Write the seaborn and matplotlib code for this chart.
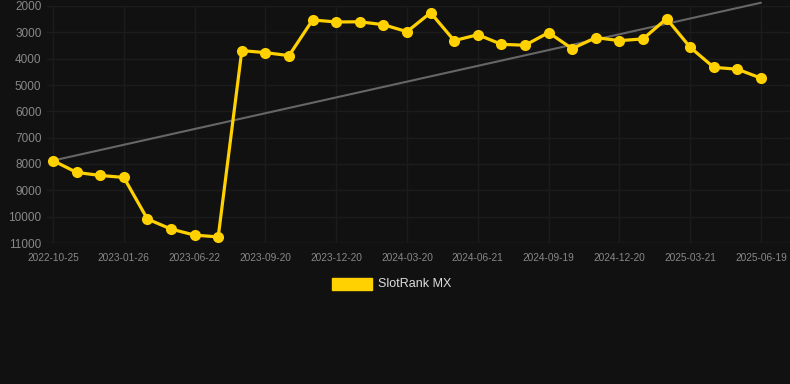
import numpy as np
import pandas as pd
import seaborn as sns
from matplotlib import pyplot as plt

# rank values, one point per snapshot (31 snapshots, every 3rd one labelled)
ranks = [7870, 8320, 8435, 8510, 10090, 10470, 10700, 10770,
         3695, 3770, 3885, 2530, 2607, 2600, 2710, 2975,
         2255, 3315, 3090, 3455, 3490, 3010, 3620, 3200,
         3315, 3250, 2480, 3570, 4330, 4400, 4740]
tick_labels = ['2022-10-25', '2023-01-26', '2023-06-22', '2023-09-20',
               '2023-12-20', '2024-03-20', '2024-06-21', '2024-09-19',
               '2024-12-20', '2025-03-21', '2025-06-19']
y_ticks = [2000, 3000, 4000, 5000, 6000, 7000, 8000, 9000, 10000, 11000]
series_name = 'SlotRank MX'
# trend line: value at first and last snapshot
trend_ends = [7870, 1875]

bg = '#111111'
gold = '#FFD100'

sns.set_theme(style='dark')
plt.rcParams['font.family'] = ['Liberation Sans', 'DejaVu Sans']

df = pd.DataFrame({'idx': np.arange(len(ranks)), 'rank': ranks})
trend = pd.DataFrame({'idx': [0, len(ranks) - 1], 'rank': trend_ends})

fig = plt.figure(figsize=(7.9, 3.84), dpi=100, facecolor=bg)
ax = fig.add_axes([47 / 790, 1 - 243 / 384, 743 / 790, 237 / 384])
ax.set_facecolor(bg)

sns.lineplot(data=trend, x='idx', y='rank', ax=ax, color='#666666', linewidth=1.5,
             zorder=2, clip_on=False)
sns.lineplot(data=df, x='idx', y='rank', ax=ax, color=gold, linewidth=2.3,
             marker='o', markersize=8, markeredgewidth=0, zorder=3, clip_on=False)

step = 23.6
ax.set_xlim(-6 / step, 30 + 29 / step)
ax.set_ylim(11000, 2000)
ax.set_xticks(np.arange(0, len(ranks), 3))
ax.set_xticklabels(tick_labels)
ax.set_yticks(y_ticks)
ax.set_xlabel('')
ax.set_ylabel('')

ax.grid(True, color='#1c1c1c', linewidth=1)
for s in ax.spines.values():
    s.set_visible(False)
ax.axhline(11000, color='#262626', linewidth=1, zorder=1)
ax.tick_params(axis='x', colors='#262626', length=4, width=1, labelcolor='#888888',
               labelsize=7.3, pad=3)
ax.tick_params(axis='y', length=0, labelcolor='#888888', labelsize=8.5, pad=4)

# legend
fig.patches.append(plt.Rectangle((332 / 790, 1 - 290 / 384), 40 / 790, 12 / 384,
                                 transform=fig.transFigure, color=gold))
fig.text(378 / 790, 1 - 284 / 384, series_name, color='#dddddd', fontsize=9,
         va='center', ha='left')

fig.savefig('out.png', dpi=100, facecolor=bg)
